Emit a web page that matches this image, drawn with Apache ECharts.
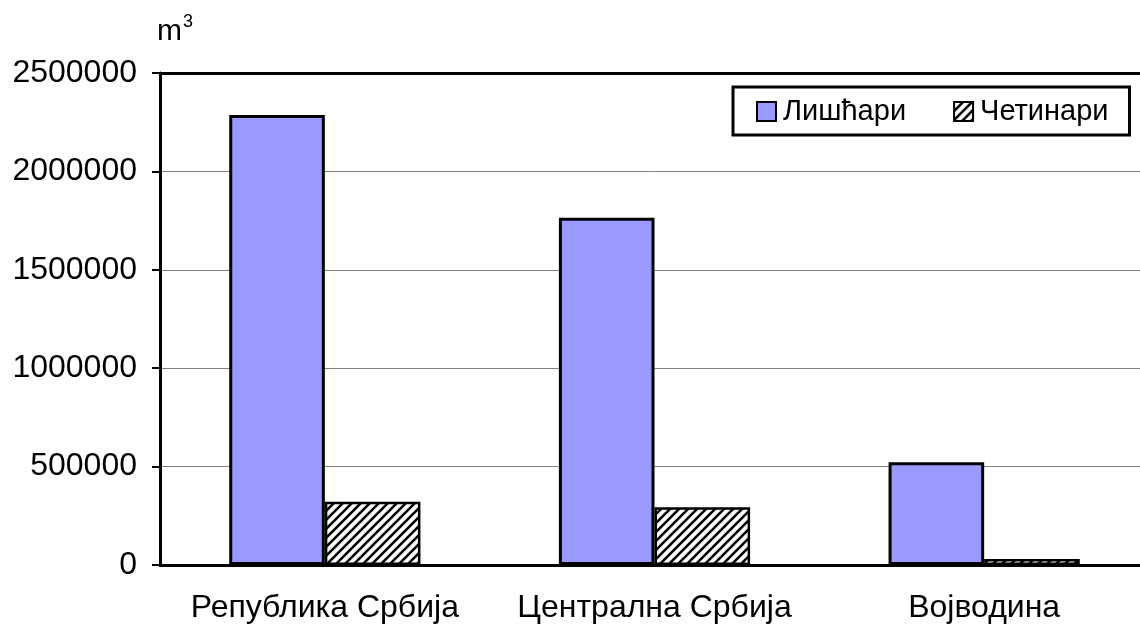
<!DOCTYPE html>
<html>
<head>
<meta charset="utf-8">
<script src="https://cdn.jsdelivr.net/npm/echarts@6/dist/echarts.min.js"></script>
<style>
  html, body { margin: 0; padding: 0; background: #fff; }
  #chart { width: 1140px; height: 628px; }
</style>
</head>
<body>
<div id="chart"></div>
<script>
const categories = ['Република Србија', 'Централна Србија', 'Војводина']
const seriesNames = ['Лишћари', 'Четинари']
const lisciari = [2286000, 1764000, 522000]
const cetinari = [322000, 293000, 30000]
const yTicks = [0, 500000, 1000000, 1500000, 2000000, 2500000]

// шрафура за четинаре
const makeHatch = () => {
  const s = 9
  const c = document.createElement('canvas')
  c.width = s
  c.height = s
  const ctx = c.getContext('2d')
  ctx.fillStyle = '#fff'
  ctx.fillRect(0, 0, s, s)
  ctx.strokeStyle = '#000'
  ctx.lineWidth = 2.6
  for (const off of [-s, 0, s]) {
    ctx.beginPath()
    ctx.moveTo(off - 1, s + 1)
    ctx.lineTo(off + s + 1, -1)
    ctx.stroke()
  }
  return c
}

const font = 'Liberation Sans, Arial, sans-serif'
const chart = echarts.init(document.getElementById('chart'))

chart.setOption({
  animation: false,
  textStyle: { fontFamily: font, color: '#000' },
  grid: { left: 160, right: -9, top: 73, bottom: 63, outerBoundsMode: 'none', containLabel: false },
  graphic: [
    { type: 'text', left: 157, top: 17, style: { text: 'm', fontSize: 30, fontFamily: font, fill: '#000' } },
    { type: 'text', left: 183, top: 13, style: { text: '3', fontSize: 18, fontFamily: font, fill: '#000' } }
  ],
  legend: {
    data: seriesNames,
    left: 733,
    top: 87,
    orient: 'horizontal',
    padding: [10, 21, 9, 23],
    borderColor: '#000',
    borderWidth: 3,
    itemWidth: 19,
    itemHeight: 19,
    itemGap: 47,
    icon: 'rect',
    itemStyle: { borderWidth: 2, borderColor: '#000' },
    textStyle: { fontSize: 29, fontFamily: font, color: '#000', padding: [0, 0, 0, 2] }
  },
  xAxis: [
    {
      type: 'category',
      data: categories,
      axisLine: { lineStyle: { color: '#000', width: 3 } },
      axisTick: { length: 12, lineStyle: { color: '#000', width: 2 } },
      axisLabel: { interval: 0, hideOverlap: false, fontSize: 32, color: '#000', margin: 27, fontFamily: font }
    },
    {
      type: 'category',
      position: 'top',
      data: categories,
      axisLine: { show: true, lineStyle: { color: '#000', width: 3 } },
      axisTick: { show: false },
      axisLabel: { show: false }
    }
  ],
  yAxis: {
    type: 'value',
    min: yTicks[0],
    max: yTicks[yTicks.length - 1],
    interval: 500000,
    axisLine: { show: true, lineStyle: { color: '#000', width: 3 } },
    axisTick: { show: true, length: 8, lineStyle: { color: '#000', width: 2 } },
    axisLabel: { fontSize: 32, color: '#000', margin: 23, fontFamily: font, formatter: v => String(v) },
    splitLine: { lineStyle: { color: '#808080', width: 1 } }
  },
  series: [
    {
      name: seriesNames[0],
      type: 'bar',
      data: lisciari,
      barGap: '0%',
      barCategoryGap: '42%',
      itemStyle: { color: '#9999FF', borderColor: '#000', borderWidth: 3 }
    },
    {
      name: seriesNames[1],
      type: 'bar',
      data: cetinari,
      barGap: '0%',
      barCategoryGap: '42%',
      itemStyle: { color: { image: makeHatch(), repeat: 'repeat' }, borderColor: '#000', borderWidth: 2.5 }
    }
  ]
})
</script>
</body>
</html>
